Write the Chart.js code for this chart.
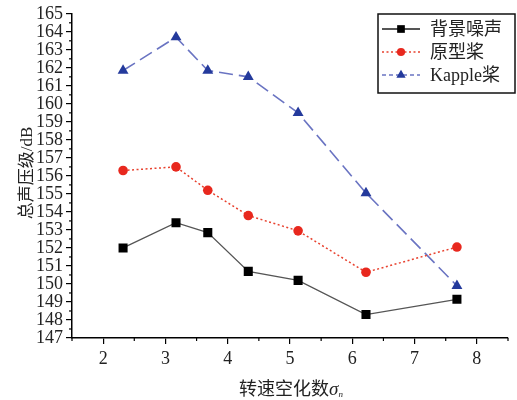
<!DOCTYPE html>
<html>
<head>
<meta charset="utf-8">
<script src="https://cdn.jsdelivr.net/npm/chart.js@4"></script>
<style>
  html, body { margin: 0; padding: 0; background: #fff; }
  #wrap { width: 517px; height: 400px; }
</style>
</head>
<body>
<div id="wrap"><canvas id="chart" width="517" height="400"></canvas></div>
<script>
// data
const sigma = [2.32, 3.17, 3.68, 4.33, 5.13, 6.22, 7.68];
const background = [152.0, 153.4, 152.85, 150.7, 150.2, 148.3, 149.15];
const prototype = [156.3, 156.5, 155.2, 153.8, 152.95, 150.65, 152.05];
const kapple = [161.85, 163.7, 161.85, 161.5, 159.5, 155.05, 149.9];
const seriesNames = ["背景噪声", "原型桨", "Kapple桨"];
const xTicks = [2, 3, 4, 5, 6, 7, 8];

const serif = "'Liberation Serif', 'Noto Sans CJK SC', serif";

function pts(ys) {
    return sigma.map((x, i) => ({ x: x, y: ys[i] }));
}

// minor ticks, axis titles, boxed legend
const extras = {
    id: "extras",
    afterDraw(chart) {
        const ctx = chart.ctx;
        const xs = chart.scales.x;
        const ys = chart.scales.y;
        const area = chart.chartArea;
        ctx.save();
        ctx.strokeStyle = "#000";
        ctx.lineWidth = 1.2;
        // minor ticks
        for (let v = 147.5; v < 165; v += 1) {
            const py = ys.getPixelForValue(v);
            ctx.beginPath();
            ctx.moveTo(area.left - 3, py);
            ctx.lineTo(area.left, py);
            ctx.stroke();
        }
        for (let v = 1.5; v <= 8.5; v += 1) {
            const px = xs.getPixelForValue(v);
            ctx.beginPath();
            ctx.moveTo(px, area.bottom);
            ctx.lineTo(px, area.bottom + 3);
            ctx.stroke();
        }

        // x title with italic sigma and subscript n
        ctx.fillStyle = "#222";
        ctx.textBaseline = "alphabetic";
        const t1 = "转速空化数";
        ctx.font = "18px " + serif;
        const w1 = ctx.measureText(t1).width;
        ctx.font = "italic 19px " + serif;
        const w2 = ctx.measureText("σ").width;
        ctx.font = "italic 9px " + serif;
        const w3 = ctx.measureText("n").width;
        let x0 = 291 - (w1 + w2 + w3) / 2;
        const by = 395;
        ctx.font = "18px " + serif;
        ctx.fillText(t1, x0, by);
        ctx.font = "italic 19px " + serif;
        ctx.fillText("σ", x0 + w1, by);
        ctx.font = "italic 9px " + serif;
        ctx.fillText("n", x0 + w1 + w2, by + 2);

        // y title
        ctx.save();
        ctx.translate(32, 173);
        ctx.rotate(-Math.PI / 2);
        ctx.font = "17px " + serif;
        ctx.textAlign = "center";
        ctx.fillText("总声压级/dB", 0, 0);
        ctx.restore();

        // legend
        const lx = 378, ly = 14, lw = 137, lh = 79;
        ctx.fillStyle = "#fff";
        ctx.fillRect(lx, ly, lw, lh);
        ctx.lineWidth = 1.5;
        ctx.strokeStyle = "#111";
        ctx.strokeRect(lx, ly, lw, lh);
        const rows = [29, 52, 75];
        chart.data.datasets.forEach((ds, i) => {
            const yy = rows[i];
            ctx.save();
            ctx.strokeStyle = ds.borderColor;
            ctx.lineWidth = i === 0 ? 2 : ds.borderWidth;
            ctx.setLineDash(i === 2 ? [4, 3] : (ds.borderDash || []));
            ctx.beginPath();
            ctx.moveTo(382, yy);
            ctx.lineTo(420, yy);
            ctx.stroke();
            ctx.restore();
            ctx.save();
            ctx.fillStyle = ds.pointBackgroundColor;
            ctx.strokeStyle = ds.pointBorderColor;
            Chart.helpers.drawPoint(ctx, {
                pointStyle: ds.pointStyle,
                radius: ds.pointRadius * 0.85,
                borderWidth: 0
            }, 401, yy);
            ctx.restore();
            ctx.fillStyle = "#222";
            ctx.font = "18px " + serif;
            ctx.textAlign = "left";
            ctx.textBaseline = "middle";
            ctx.fillText(ds.label, 430, yy + 1);
        });
        ctx.restore();
    }
};

new Chart(document.getElementById("chart"), {
    type: "scatter",
    data: {
        datasets: [
            {
                label: seriesNames[0],
                data: pts(background),
                showLine: true,
                borderColor: "#555555",
                borderWidth: 1.3,
                pointStyle: "rect",
                pointRadius: 6.4,
                pointBackgroundColor: "#000",
                pointBorderColor: "#000",
                pointBorderWidth: 0
            },
            {
                label: seriesNames[1],
                data: pts(prototype),
                showLine: true,
                borderColor: "#e8422f",
                borderWidth: 1.5,
                borderDash: [2, 2.5],
                pointStyle: "circle",
                pointRadius: 4.8,
                pointBackgroundColor: "#e8281e",
                pointBorderColor: "#e8281e",
                pointBorderWidth: 0
            },
            {
                label: seriesNames[2],
                data: pts(kapple),
                showLine: true,
                borderColor: "#6a74c2",
                borderWidth: 1.6,
                borderDash: [14, 6],
                pointStyle: "triangle",
                pointRadius: 6.3,
                pointBackgroundColor: "#243a9c",
                pointBorderColor: "#243a9c",
                pointBorderWidth: 0
            }
        ]
    },
    options: {
        responsive: false,
        animation: false,
        layout: { padding: { top: 4, right: 9, left: 0, bottom: 0 } },
        plugins: {
            legend: { display: false },
            tooltip: { enabled: false }
        },
        scales: {
            x: {
                type: "linear",
                min: 1.5,
                max: 8.5,
                afterBuildTicks: (s) => {
                    s.ticks = xTicks.map(v => ({ value: v }));
                },
                afterFit: (s) => { s.height = 62; },
                grid: { drawOnChartArea: false, drawTicks: true, tickLength: 6, color: "#000", lineWidth: 1.2 },
                border: { color: "#000", width: 1.5 },
                ticks: { color: "#222", font: { family: serif, size: 18 }, padding: 4, autoSkip: false, maxRotation: 0 }
            },
            y: {
                min: 147,
                max: 165,
                afterBuildTicks: (s) => {
                    const t = [];
                    for (let v = 147; v <= 165; v++) t.push({ value: v });
                    s.ticks = t;
                },
                afterFit: (s) => { s.width = 72; },
                grid: { drawOnChartArea: false, drawTicks: true, tickLength: 6, color: "#000", lineWidth: 1.2 },
                border: { color: "#000", width: 1.5 },
                ticks: { color: "#222", font: { family: serif, size: 18 }, padding: 3, autoSkip: false }
            }
        }
    },
    plugins: [extras]
});
</script>
</body>
</html>
